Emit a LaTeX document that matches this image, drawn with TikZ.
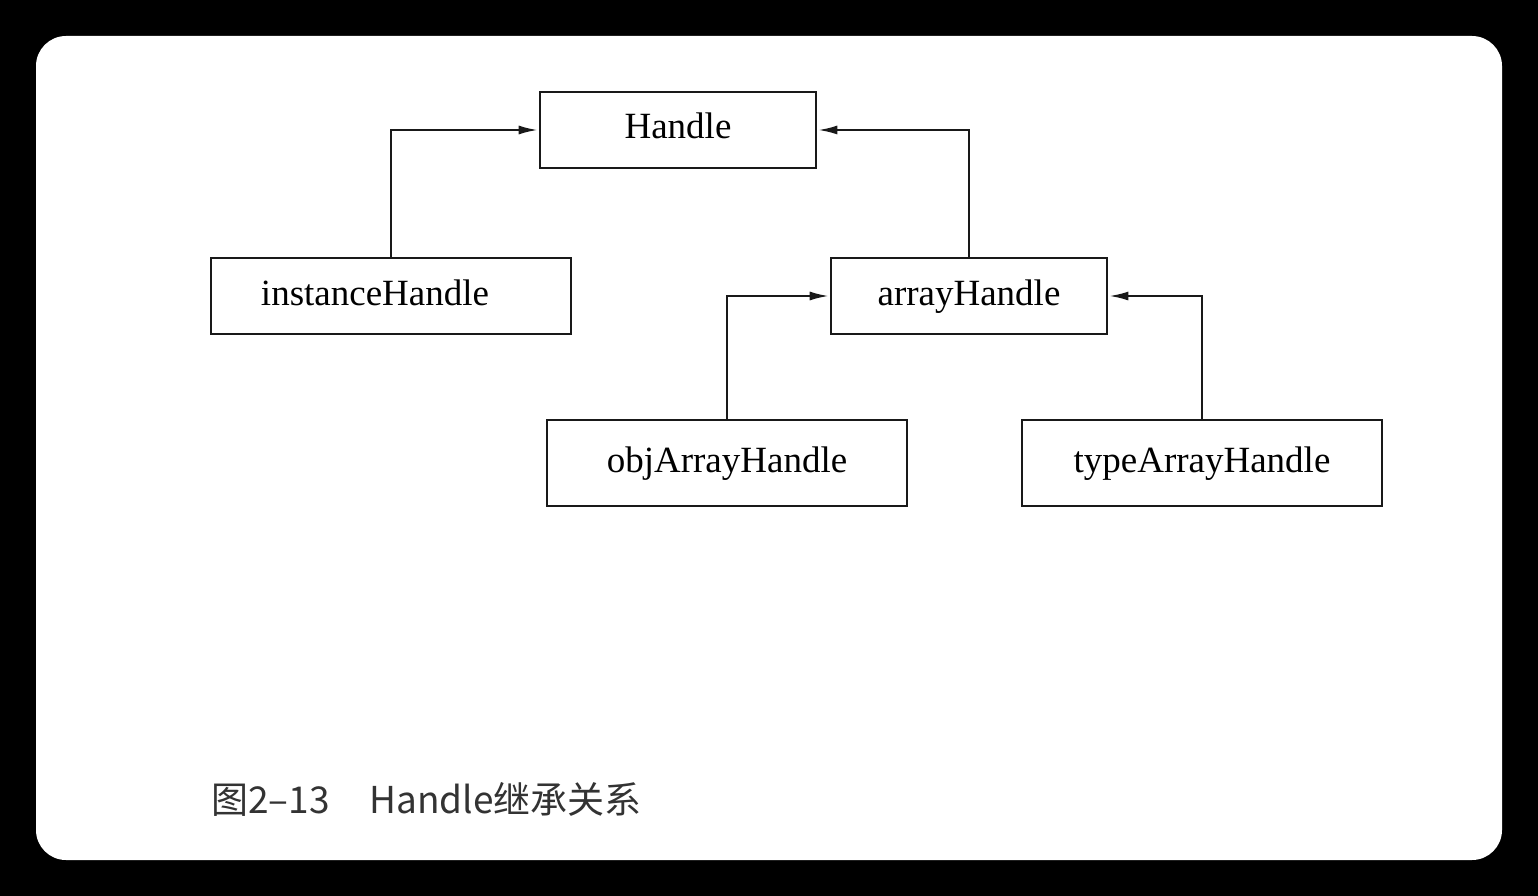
\documentclass[tikz,border=0pt]{standalone}
\usepackage{fontspec}
\setmainfont{Liberation Serif}
\newfontfamily\cjk{Noto Sans CJK SC}
\usetikzlibrary{arrows.meta}
\begin{document}
\begin{tikzpicture}[x=1pt,y=-1pt,
  cls/.style={draw=black!90, line width=2.8pt, fill=white, inner sep=0pt,
    text height=26pt, text depth=8pt,
    font=\fontsize{37}{40}\selectfont, text=black},
  wide/.style={cls, minimum width=360pt, minimum height=76pt},
  narrow/.style={cls, minimum width=276pt, minimum height=76pt},
  low/.style={cls, minimum width=360pt, minimum height=86pt},
  inh/.style={draw=black!90, line width=2.6pt, -{Latex[length=20pt,width=9pt]}}]
\fill[black] (0,0) rectangle (1538,896);
\useasboundingbox (0,0) rectangle (1538,896);
\fill[white, rounded corners=30pt] (36,36) rectangle (1502,860);
\node[narrow] (h) at (678,130) {Handle};
\node[wide] (ih) at (391,296) {instanceHandle\kern32pt};
\node[narrow] (ah) at (969,296) {arrayHandle};
\node[low] (oah) at (727,463) {objArrayHandle};
\node[low] (tah) at (1202,463) {typeArrayHandle};
\draw[inh] (ih.north) |- (h.west);
\draw[inh] (ah.north) |- (h.east);
\draw[inh] (oah.north) |- (ah.west);
\draw[inh] (tah.north) |- (ah.east);
\node[anchor=base west, inner sep=0pt, text=black!80, font=\cjk\fontsize{37}{40}\selectfont] (cap) at (211,813) {图2–13\hspace{40pt}Handle继承关系};
\end{tikzpicture}
\end{document}
